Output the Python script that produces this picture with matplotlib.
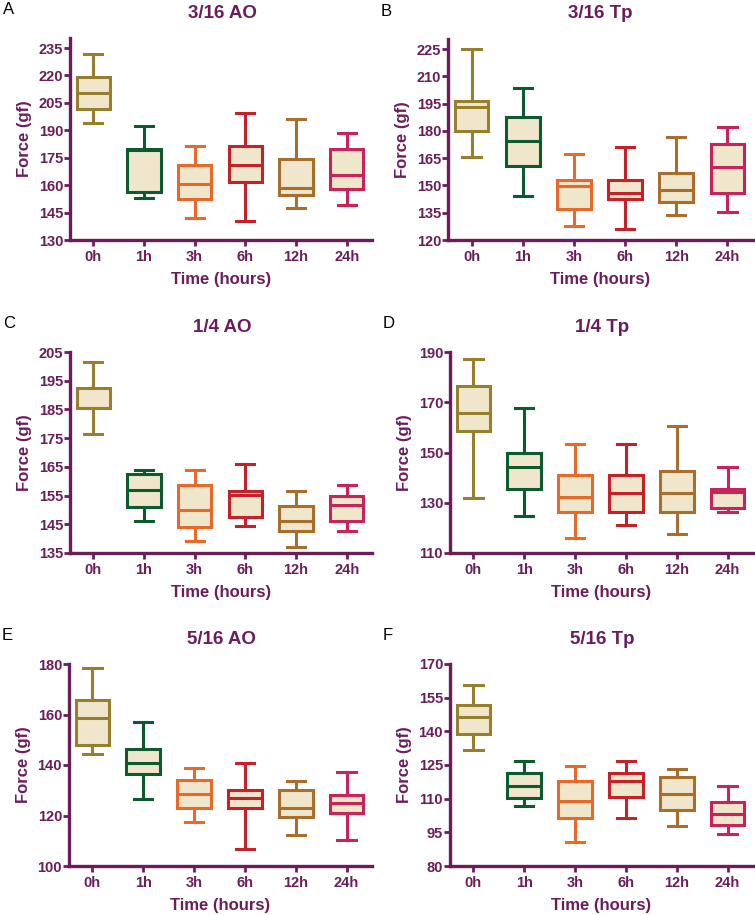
import matplotlib
matplotlib.use("Agg")
import matplotlib.pyplot as plt

plt.rcParams["font.family"] = ["Liberation Sans", "DejaVu Sans"]

TIMES = ["0h", "1h", "3h", "6h", "12h", "24h"]
COLORS = ["#96802E", "#0E5A2F", "#E8692A", "#C42128", "#A86F2C", "#C8245A"]
FILL = "#F0E6CB"
PURPLE = "#6B1D5B"

# each list: whisker low, Q1, median, Q3, whisker high (per time point)
A_AO316 = [
    [194.0, 201.5, 210.2, 219.0, 231.7],
    [152.8, 156.4, 179.0, 180.0, 192.2],
    [142.0, 152.6, 160.4, 171.0, 181.6],
    [140.4, 161.5, 171.0, 181.6, 199.6],
    [147.5, 154.6, 158.3, 174.3, 196.0],
    [149.3, 157.9, 165.7, 180.0, 188.7],
]
B_TP316 = [
    [165.9, 180.0, 192.9, 196.5, 225.0],
    [144.0, 160.8, 174.7, 187.4, 203.3],
    [127.9, 136.9, 149.9, 153.0, 167.5],
    [126.2, 142.4, 146.1, 153.0, 171.2],
    [133.6, 140.7, 147.5, 156.7, 176.7],
    [135.4, 146.0, 160.4, 172.7, 182.0],
]
C_AO14 = [
    [176.5, 185.5, 185.5, 192.6, 201.6],
    [146.3, 151.0, 156.9, 162.6, 163.8],
    [139.1, 144.1, 149.9, 158.7, 163.8],
    [144.3, 147.7, 155.2, 156.7, 165.9],
    [137.2, 142.6, 146.3, 151.4, 156.7],
    [142.7, 146.0, 151.6, 155.0, 158.6],
]
D_TP14 = [
    [131.9, 158.6, 165.8, 176.6, 187.2],
    [124.8, 135.5, 144.4, 149.7, 167.8],
    [115.8, 126.5, 132.1, 141.1, 153.3],
    [121.2, 126.5, 133.9, 141.1, 153.3],
    [117.6, 126.5, 133.9, 142.6, 160.5],
    [126.5, 128.1, 134.3, 135.6, 144.4],
]
E_AO516 = [
    [144.3, 148.0, 158.7, 165.8, 178.3],
    [126.6, 136.3, 140.9, 146.2, 156.9],
    [117.4, 122.9, 128.4, 133.9, 138.8],
    [106.8, 122.9, 126.8, 130.2, 140.7],
    [112.2, 119.3, 123.1, 130.2, 133.6],
    [110.2, 121.0, 125.0, 128.3, 137.1],
]
F_TP516 = [
    [131.9, 138.9, 146.4, 151.8, 160.6],
    [106.9, 110.5, 115.7, 121.4, 126.6],
    [90.6, 101.2, 108.9, 117.7, 124.6],
    [101.5, 110.6, 117.7, 121.3, 126.6],
    [97.9, 105.0, 112.3, 119.5, 123.1],
    [94.4, 98.1, 103.3, 108.7, 115.7],
]

PANELS = [
    ("A", "3/16 AO", A_AO316, (130, 240.5), [130, 145, 160, 175, 190, 205, 220, 235]),
    ("B", "3/16 Tp", B_TP316, (120, 230.5), [120, 135, 150, 165, 180, 195, 210, 225]),
    ("C", "1/4 AO", C_AO14, (135, 205), [135, 145, 155, 165, 175, 185, 195, 205]),
    ("D", "1/4 Tp", D_TP14, (110, 190), [110, 130, 150, 170, 190]),
    ("E", "5/16 AO", E_AO516, (100, 180), [100, 120, 140, 160, 180]),
    ("F", "5/16 Tp", F_TP516, (80, 170), [80, 95, 110, 125, 140, 155, 170]),
]

W, H = 755, 915
# axes boxes in pixels: left, top, right, bottom
AX_PX = [
    (70, 38, 372, 240), (448, 39, 753, 240),
    (70, 352, 372, 553), (450, 352, 753, 553),
    (69, 664, 372, 866), (450, 664, 753, 866),
]

fig = plt.figure(figsize=(W / 100, H / 100), dpi=100)

for (letter, title, data, ylim, yticks), (l, t, r, b) in zip(PANELS, AX_PX):
    ax = fig.add_axes([l / W, 1 - b / H, (r - l) / W, (b - t) / H])
    stats = []
    for lab, (lo, q1, med, q3, hi) in zip(TIMES, data):
        stats.append(dict(label=lab, whislo=lo, q1=q1, med=med, q3=q3, whishi=hi, fliers=[]))
    arts = ax.bxp(stats, positions=range(len(TIMES)), widths=0.66, capwidths=0.36,
                  patch_artist=True, showfliers=False)
    for i, c in enumerate(COLORS):
        arts["boxes"][i].set(facecolor=FILL, edgecolor=c, linewidth=2.2)
        arts["medians"][i].set(color=c, linewidth=2.2)
        for k in (2 * i, 2 * i + 1):
            arts["whiskers"][k].set(color=c, linewidth=2.2)
            arts["caps"][k].set(color=c, linewidth=2.2)

    ax.set_xlim(-0.46, 5.5)
    ax.set_ylim(*ylim)
    ax.set_yticks(yticks)
    ax.set_xticks(range(len(TIMES)))
    ax.set_xticklabels(TIMES)
    for s in ("top", "right"):
        ax.spines[s].set_visible(False)
    for s in ("left", "bottom"):
        ax.spines[s].set_color(PURPLE)
        ax.spines[s].set_linewidth(2.4)
    ax.tick_params(colors=PURPLE, width=2, length=4, labelsize=10.5)
    ax.tick_params(axis="x", pad=3)
    ax.tick_params(axis="y", pad=1)
    for lbl in ax.get_xticklabels() + ax.get_yticklabels():
        lbl.set_fontweight("bold")
    ax.set_xlabel("Time (hours)", color=PURPLE, fontsize=12, fontweight="bold", labelpad=6)
    ax.set_ylabel("Force (gf)", color=PURPLE, fontsize=12, fontweight="bold", labelpad=5)

    fig.text((l + 152) / W, 1 - (t - 25) / H, title, color=PURPLE, fontsize=13.5,
             fontweight="bold", ha="center", va="center")
    fig.text((l - 67) / W, 1 - (t - 28) / H, letter, color="black", fontsize=12,
             ha="left", va="center")

fig.savefig("out.png", dpi=100)
